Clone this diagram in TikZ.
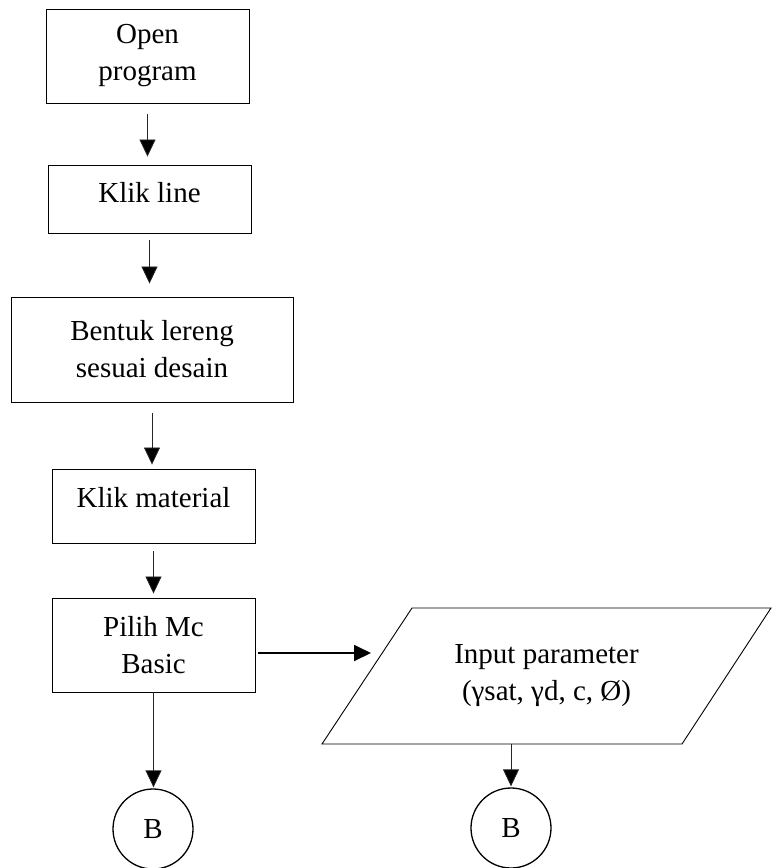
\documentclass[tikz,border=0pt]{standalone}
\usepackage{fontspec}
\setmainfont{Liberation Serif}
\usetikzlibrary{arrows.meta,calc}
\begin{document}
\begin{tikzpicture}[x=1pt,y=-1pt,
  every node/.style={font=\fontsize{29}{37}\selectfont},
  procbox/.style={draw, line width=0.9pt, align=center, inner sep=0pt},
  connector/.style={circle, draw, line width=1.3pt, minimum size=80pt, inner sep=0pt},
  flow/.style={line width=0.8pt, draw=black!85, -{Triangle[length=17pt,width=16pt,fill=black]}},
  flowthick/.style={line width=1.8pt, -{Triangle[length=17pt,width=16pt]}}
]
\useasboundingbox (0,0) rectangle (773,868);

% process steps
\node[procbox, minimum width=203pt, minimum height=94pt] (open) at (147.5,56) {Open\\program};
\node[procbox, minimum width=203pt, minimum height=68pt, text depth=14pt] (line) at (149.5,199) {Klik line};
\node[procbox, minimum width=282pt, minimum height=105pt] (shape) at (152,349.5) {Bentuk lereng\\sesuai desain};
\node[procbox, minimum width=203pt, minimum height=74pt, text depth=18pt] (material) at (153.5,506) {Klik material};
\node[procbox, minimum width=203pt, minimum height=94pt] (basic) at (153.5,645) {Pilih Mc\\Basic};

% input parallelogram
\coordinate (pTL) at (412,608);
\coordinate (pTR) at (771,608);
\coordinate (pBR) at (682,744);
\coordinate (pBL) at (322,744);
\coordinate (inL) at (382,653);
\draw[line width=0.9pt] (pTL) -- (pTR) -- (pBR) -- (pBL) -- cycle;
\node[align=center, minimum height=136pt, inner sep=0pt] (param) at (546.5,676)
  {Input parameter\\(γsat, γd, c, Ø)};

% off-page connectors
\node[connector] (b1) at (153,829) {B};
\node[connector] (b2) at (511,828) {B};

% flow lines
\draw[flow, shorten <=11pt, shorten >=8pt] (open.south) -- (open.south |- line.north);
\draw[flow, shorten <=7pt, shorten >=13pt] (line.south) -- (line.south |- shape.north);
\draw[flow, shorten <=11pt, shorten >=4pt] (shape.south) -- (shape.south |- material.north);
\draw[flow, shorten <=8pt, shorten >=4pt] (material.south) -- (material.south |- basic.north);
\draw[flow, shorten >=1pt] (basic.south) -- (basic.south |- b1.north);
\draw[flowthick, shorten <=3pt, shorten >=11pt] (basic.east |- inL) -- (inL);
\draw[flow, shorten >=1pt] (b2 |- param.south) -- (b2.north);
\end{tikzpicture}
\end{document}
